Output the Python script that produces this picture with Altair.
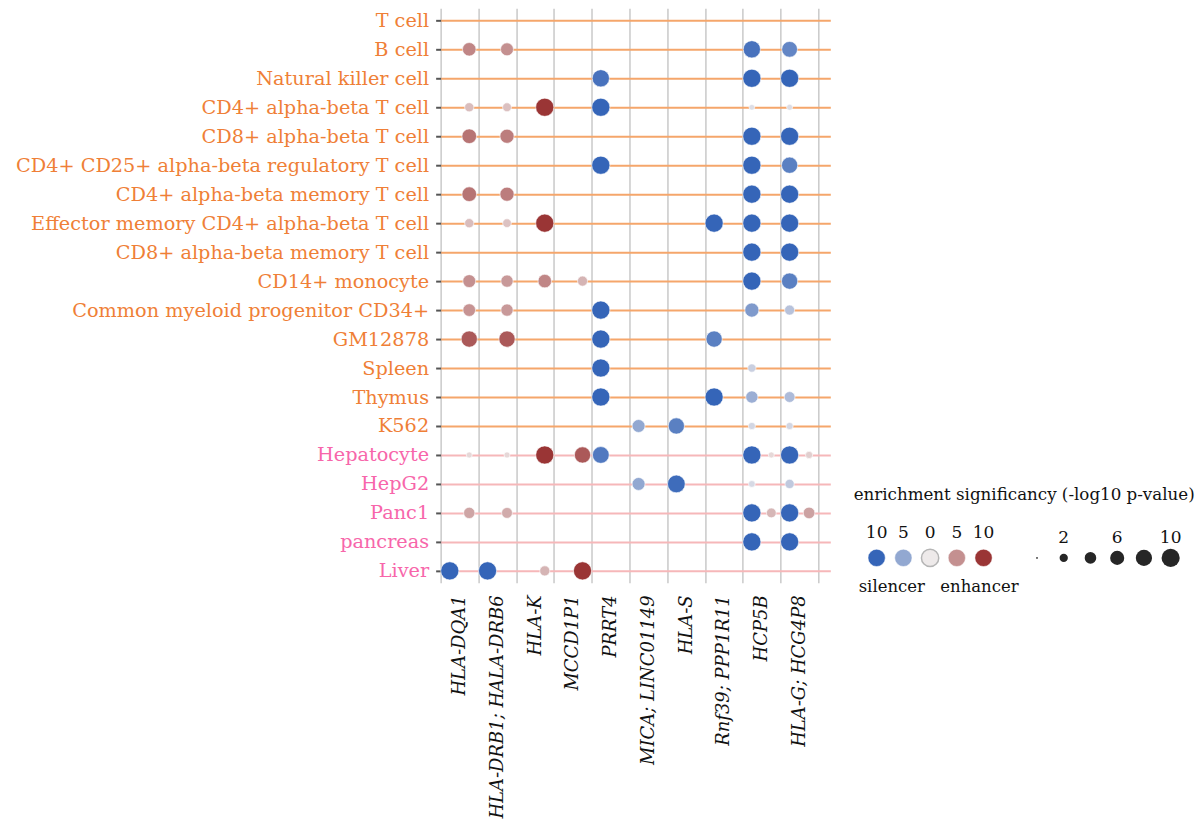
import json
import altair as alt
import pandas as pd

SERIF = "DejaVu Serif"

# ---------------- data ----------------
genes = ["HLA-DQA1", "HLA-DRB1; HALA-DRB6", "HLA-K", "MCCD1P1", "PRRT4",
         "MICA; LINC01149", "HLA-S", "Rnf39; PPP1R11", "HCP5B", "HLA-G; HCG4P8"]

cells = ["T cell", "B cell", "Natural killer cell", "CD4+ alpha-beta T cell",
         "CD8+ alpha-beta T cell", "CD4+ CD25+ alpha-beta regulatory T cell",
         "CD4+ alpha-beta memory T cell", "Effector memory CD4+ alpha-beta T cell",
         "CD8+ alpha-beta memory T cell", "CD14+ monocyte",
         "Common myeloid progenitor CD34+", "GM12878", "Spleen", "Thymus", "K562",
         "Hepatocyte", "HepG2", "Panc1", "pancreas", "Liver"]

liver_group = ["Hepatocyte", "HepG2", "Panc1", "pancreas", "Liver"]

# signed -log10 p-value: negative = silencer, positive = enhancer
pt_cell = (
    ["B cell"] * 4
    + ["Natural killer cell"] * 3
    + ["CD4+ alpha-beta T cell"] * 6
    + ["CD8+ alpha-beta T cell"] * 4
    + ["CD4+ CD25+ alpha-beta regulatory T cell"] * 3
    + ["CD4+ alpha-beta memory T cell"] * 4
    + ["Effector memory CD4+ alpha-beta T cell"] * 6
    + ["CD8+ alpha-beta memory T cell"] * 2
    + ["CD14+ monocyte"] * 6
    + ["Common myeloid progenitor CD34+"] * 5
    + ["GM12878"] * 4
    + ["Spleen"] * 2
    + ["Thymus"] * 4
    + ["K562"] * 4
    + ["Hepatocyte"] * 9
    + ["HepG2"] * 4
    + ["Panc1"] * 6
    + ["pancreas"] * 2
    + ["Liver"] * 4
)
pt_gene = (
    ["HLA-DQA1", "HLA-DRB1; HALA-DRB6", "HCP5B", "HLA-G; HCG4P8"]
    + ["PRRT4", "HCP5B", "HLA-G; HCG4P8"]
    + ["HLA-DQA1", "HLA-DRB1; HALA-DRB6", "HLA-K", "PRRT4", "HCP5B", "HLA-G; HCG4P8"]
    + ["HLA-DQA1", "HLA-DRB1; HALA-DRB6", "HCP5B", "HLA-G; HCG4P8"]
    + ["PRRT4", "HCP5B", "HLA-G; HCG4P8"]
    + ["HLA-DQA1", "HLA-DRB1; HALA-DRB6", "HCP5B", "HLA-G; HCG4P8"]
    + ["HLA-DQA1", "HLA-DRB1; HALA-DRB6", "HLA-K", "Rnf39; PPP1R11", "HCP5B", "HLA-G; HCG4P8"]
    + ["HCP5B", "HLA-G; HCG4P8"]
    + ["HLA-DQA1", "HLA-DRB1; HALA-DRB6", "HLA-K", "MCCD1P1", "HCP5B", "HLA-G; HCG4P8"]
    + ["HLA-DQA1", "HLA-DRB1; HALA-DRB6", "PRRT4", "HCP5B", "HLA-G; HCG4P8"]
    + ["HLA-DQA1", "HLA-DRB1; HALA-DRB6", "PRRT4", "Rnf39; PPP1R11"]
    + ["PRRT4", "HCP5B"]
    + ["PRRT4", "Rnf39; PPP1R11", "HCP5B", "HLA-G; HCG4P8"]
    + ["MICA; LINC01149", "HLA-S", "HCP5B", "HLA-G; HCG4P8"]
    + ["HLA-DQA1", "HLA-DRB1; HALA-DRB6", "HLA-K", "MCCD1P1", "PRRT4",
       "HCP5B", "HCP5B", "HLA-G; HCG4P8", "HLA-G; HCG4P8"]
    + ["MICA; LINC01149", "HLA-S", "HCP5B", "HLA-G; HCG4P8"]
    + ["HLA-DQA1", "HLA-DRB1; HALA-DRB6", "HCP5B", "HCP5B", "HLA-G; HCG4P8", "HLA-G; HCG4P8"]
    + ["HCP5B", "HLA-G; HCG4P8"]
    + ["HLA-DQA1", "HLA-DRB1; HALA-DRB6", "HLA-K", "MCCD1P1"]
)
pt_value = (
    [5.5, 5.0, -9.0, -7.5]
    + [-9.0, -10.0, -10.0]
    + [2.5, 2.3, 10.0, -10.0, -0.9, -1.0]
    + [6.5, 6.0, -10.0, -10.0]
    + [-10.0, -10.0, -8.0]
    + [6.5, 6.0, -10.0, -10.0]
    + [2.5, 2.2, 10.0, -10.0, -10.0, -10.0]
    + [-10.0, -10.0]
    + [5.0, 4.5, 5.5, 3.0, -10.0, -8.0]
    + [4.8, 4.5, -10.0, -6.0, -3.0]
    + [8.0, 8.0, -10.0, -8.0]
    + [-10.0, -2.0]
    + [-10.0, -10.0, -4.5, -3.5]
    + [-5.0, -8.0, -1.5, -1.5]
    + [1.0, 1.0, 10.0, 8.0, -8.5, -10.0, 1.0, -10.0, 1.5]
    + [-5.0, -9.5, -1.3, -2.5]
    + [3.8, 3.5, -10.0, 2.8, -10.0, 4.0]
    + [-10.0, -10.0]
    + [-10.0, -10.0, 3.0, 10.0]
)

# legend contents
leg_items = ["c-10", "c-5", "c0", "c5", "c10", "gap", "s0", "s2", "s4", "s6", "s8", "s10"]
color_leg_items = ["c-10", "c-5", "c0", "c5", "c10"]
color_leg_vals = [-10, -5, 0, 5, 10]
color_leg_labels = ["10", "5", "0", "5", "10"]
size_leg_items = ["s0", "s2", "s4", "s6", "s8", "s10"]
size_leg_vals = [0, 2, 4, 6, 8, 10]
size_leg_labels = ["", "2", "", "6", "", "10"]
legend_title = "enrichment significancy (-log10 p-value)"
caption_items = ["c-10", "c10"]
caption_texts = ["silencer", "enhancer"]

# ---------------- tables ----------------
df = pd.DataFrame({"cell": pt_cell, "gene": pt_gene, "value": pt_value})
df["kind"] = ["silencer" if v < 0 else "enhancer" for v in df["value"]]
df["mag"] = df["value"].abs()

test = "indexof(" + json.dumps(liver_group) + ", datum.value) >= 0"

color_scale = alt.Scale(domain=[-10, 0, 10], range=["#3565b8", "#eeeaea", "#9a3535"],
                        interpolate="rgb", clamp=True)
size_scale = alt.Scale(domain=[0, 10], range=[3, 330], clamp=True)

main = alt.Chart(df).mark_circle(opacity=1, stroke="white", strokeWidth=1, strokeOpacity=0.6).encode(
    x=alt.X("gene:N",
            scale=alt.Scale(domain=genes, paddingInner=0, paddingOuter=0.16, align=0),
            axis=alt.Axis(title=None, labelAngle=270, labelFont=SERIF, labelFontStyle="italic",
                          labelFontSize=18, labelColor="#111111", labelPadding=12,
                          ticks=False, domain=False, grid=True, gridColor="#c9c9c9",
                          gridWidth=1.5, tickBand="extent", labelLimit=400)),
    xOffset=alt.XOffset("kind:N",
                        scale=alt.Scale(domain=["silencer", "enhancer"], paddingInner=0, paddingOuter=0.47)),
    y=alt.Y("cell:N",
            scale=alt.Scale(domain=cells, type="point", padding=0.414),
            axis=alt.Axis(title=None, labelFont=SERIF, labelFontSize=19.3,
                          labelColor={"condition": {"test": test, "value": "#f766aa"}, "value": "#ef7f37"},
                          grid=True,
                          gridColor={"condition": {"test": test, "value": "#f6b7b9"}, "value": "#f5a66b"},
                          gridWidth=2, tickColor="#555555", tickSize=5, tickWidth=2,
                          domain=False, labelPadding=7, labelLimit=600)),
    color=alt.Color("value:Q", scale=color_scale, legend=None),
    size=alt.Size("mag:Q", scale=size_scale, legend=None),
).properties(width=390, height=575)

# ---------------- custom legend panel ----------------
lx = alt.X("item:N", scale=alt.Scale(domain=leg_items, type="point", padding=0.5), axis=None)
row_scale = alt.Scale(domain=["title", "label", "swatch", "caption"], type="point",
                      range=[490, 580], padding=0)
ly = alt.Y("row:N", scale=row_scale, axis=None)

cdf = pd.DataFrame({"item": color_leg_items, "value": color_leg_vals, "label": color_leg_labels})
cdf["row_s"] = "swatch"
cdf["row_l"] = "label"
sdf = pd.DataFrame({"item": size_leg_items, "mag": size_leg_vals, "label": size_leg_labels})
sdf["row_s"] = "swatch"
sdf["row_l"] = "label"
capdf = pd.DataFrame({"item": caption_items, "label": caption_texts, "row": "caption"})
tdf = pd.DataFrame({"item": ["c-10"], "label": [legend_title], "row": ["title"]})

c_sw = alt.Chart(cdf).mark_circle(size=300, opacity=1).encode(
    x=lx, y=alt.Y("row_s:N", scale=row_scale, axis=None),
    color=alt.Color("value:Q", scale=color_scale, legend=None),
    stroke=alt.condition("datum.value == 0", alt.value("#b5b5b5"), alt.value("white")),
    strokeWidth=alt.condition("datum.value == 0", alt.value(1.5), alt.value(0.5)),
)
c_lab = alt.Chart(cdf).mark_text(font=SERIF, fontSize=17, color="#111111", dy=5).encode(
    x=lx, y=alt.Y("row_l:N", scale=row_scale, axis=None), text="label:N")
s_sw = alt.Chart(sdf).mark_circle(opacity=1, color="#262626").encode(
    x=lx, y=alt.Y("row_s:N", scale=row_scale, axis=None),
    size=alt.Size("mag:Q", scale=size_scale, legend=None))
s_lab = alt.Chart(sdf).mark_text(font=SERIF, fontSize=17, color="#111111", dy=10).encode(
    x=lx, y=alt.Y("row_l:N", scale=row_scale, axis=None), text="label:N")
cap_l = alt.Chart(capdf).transform_filter("datum.label == 'silencer'").mark_text(
    font=SERIF, fontSize=16.5, color="#111111", align="left", dx=-18, dy=-1).encode(
    x=lx, y=ly, text="label:N")
cap_r = alt.Chart(capdf).transform_filter("datum.label == 'enhancer'").mark_text(
    font=SERIF, fontSize=16.5, color="#111111", align="right", dx=35, dy=-1).encode(
    x=lx, y=ly, text="label:N")
ttl = alt.Chart(tdf).mark_text(font=SERIF, fontSize=16.7, color="#111111", align="left", dx=-23, dy=-3).encode(
    x=lx, y=ly, text="label:N")

legend = alt.layer(c_sw, c_lab, s_sw, s_lab, cap_l, cap_r, ttl).properties(width=321, height=575)

chart = alt.hconcat(main, legend, spacing=23).resolve_scale(x="independent", y="independent").properties(
    padding={"left": 7, "top": 0, "right": 0, "bottom": 0}
).configure_view(stroke=None)

chart.save("out.html", embed_options={"renderer": "svg", "actions": False})
